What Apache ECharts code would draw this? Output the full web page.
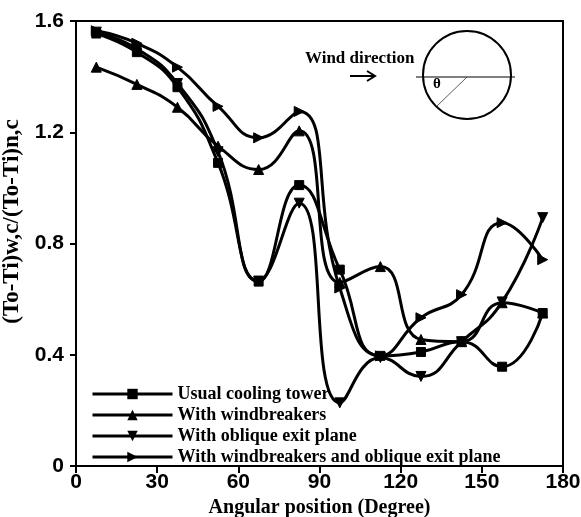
<!DOCTYPE html>
<html>
<head>
<meta charset="utf-8">
<script src="https://cdn.jsdelivr.net/npm/echarts@6/dist/echarts.min.js"></script>
<style>html,body{margin:0;padding:0;background:#fff;}#c{width:581px;height:517px;}</style>
</head>
<body>
<div id="c"></div>
<script>
// Angular positions (degree)
var angles = [7.5, 22.5, 37.5, 52.5, 67.5, 82.5, 97.5, 112.5, 127.5, 142.5, 157.5, 172.5];
// Series values
var usualTower      = [1.555, 1.488, 1.362, 1.09, 0.663, 1.01, 0.706, 0.396, 0.41, 0.447, 0.357, 0.55];
var windbreakers    = [1.434, 1.372, 1.29, 1.15, 1.066, 1.205, 0.66, 0.717, 0.455, 0.447, 0.587, 0.55];
var obliqueExit     = [1.56, 1.50, 1.375, 1.13, 0.665, 0.945, 0.227, 0.39, 0.322, 0.447, 0.59, 0.893];
var windAndOblique  = [1.565, 1.52, 1.434, 1.293, 1.18, 1.275, 0.64, 0.396, 0.533, 0.616, 0.875, 0.742];
var seriesNames = ['Usual cooling tower', 'With windbreakers', 'With oblique exit plane', 'With windbreakers and oblique exit plane'];
var xTicks = [0, 30, 60, 90, 120, 150, 180];
var yTicks = [0, 0.4, 0.8, 1.2, 1.6];

function pairs(vals) { return angles.map(function (a, i) { return [a, vals[i]]; }); }

var symbols = ['rect', 'triangle', 'path://M0,0L10,0L5,10Z', 'path://M0,0L10,5L0,10Z'];
var sizes = [9, 10, 10, 10];
var allData = [usualTower, windbreakers, obliqueExit, windAndOblique];

var chart = echarts.init(document.getElementById('c'), null, {renderer: 'canvas'});
var serif = 'Liberation Serif, Times New Roman, serif';
var sans = 'Liberation Sans, Arial, sans-serif';

chart.setOption({
  animation: false,
  backgroundColor: '#fff',
  grid: {left: 76, right: 18, top: 21, bottom: 51, show: true, borderColor: '#000', borderWidth: 2,
         containLabel: false, outerBoundsMode: 'none'},
  xAxis: {
    type: 'value', min: xTicks[0], max: xTicks[xTicks.length - 1], interval: 30,
    name: 'Angular position (Degree)', nameLocation: 'middle', nameGap: 30,
    nameTextStyle: {fontFamily: serif, fontWeight: 'bold', fontSize: 20, color: '#000'},
    axisLine: {lineStyle: {color: '#000', width: 2}},
    axisTick: {show: true, inside: false, length: 7, lineStyle: {color: '#000', width: 2}},
    axisLabel: {fontFamily: sans, fontWeight: 'bold', fontSize: 21, color: '#000', margin: 6},
    splitLine: {show: false}
  },
  yAxis: {
    type: 'value', min: yTicks[0], max: yTicks[yTicks.length - 1], interval: 0.4,
    name: '(To-Ti)w,c/(To-Ti)n,c', nameLocation: 'middle', nameGap: 43, nameRotate: 90,
    nameTextStyle: {fontFamily: serif, fontWeight: 'bold', fontSize: 23, color: '#000', padding: [0, 0, 0, 44]},
    axisLine: {lineStyle: {color: '#000', width: 2}},
    axisTick: {show: true, inside: false, length: 6, lineStyle: {color: '#000', width: 2}},
    axisLabel: {fontFamily: sans, fontWeight: 'bold', fontSize: 21, color: '#000', margin: 12},
    splitLine: {show: false}
  },
  legend: {
    orient: 'vertical', left: 86, top: 380,
    itemWidth: 80, itemHeight: 13, itemGap: 3,
    lineStyle: {width: 3, color: '#000'},
    textStyle: {fontFamily: serif, fontWeight: 'bold', fontSize: 18, color: '#000', lineHeight: 17},
    data: seriesNames
  },
  series: seriesNames.map(function (n, i) {
    return {
      name: n, type: 'line', data: pairs(allData[i]), smooth: 0.5,
      symbol: symbols[i], symbolSize: sizes[i], showSymbol: true,
      lineStyle: {color: '#000', width: 3},
      itemStyle: {color: '#000', borderColor: '#000'}
    };
  }),
  graphic: [
    {type: 'text', left: 305, top: 50, style: {text: 'Wind direction', font: 'bold 17px ' + serif, fill: '#000'}},
    {type: 'line', shape: {x1: 350, y1: 76, x2: 374, y2: 76}, style: {stroke: '#000', lineWidth: 2}},
    {type: 'polyline', shape: {points: [[367, 71], [375, 76], [367, 81]]}, style: {stroke: '#000', lineWidth: 2, fill: null}},
    {type: 'circle', shape: {cx: 467, cy: 75, r: 44}, style: {stroke: '#000', lineWidth: 2, fill: null}},
    {type: 'line', shape: {x1: 416, y1: 77, x2: 515, y2: 77}, style: {stroke: '#000', lineWidth: 1.2}},
    {type: 'line', shape: {x1: 467, y1: 77, x2: 437, y2: 106}, style: {stroke: '#333', lineWidth: 0.8}},
    {type: 'text', left: 433, top: 77, style: {text: 'θ', font: 'bold 15px ' + serif, fill: '#000'}}
  ]
});
</script>
</body>
</html>
